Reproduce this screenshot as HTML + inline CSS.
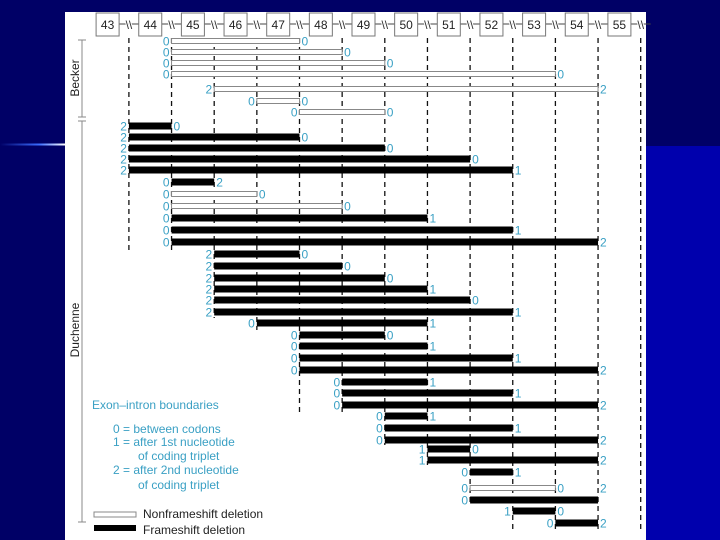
<!DOCTYPE html>
<html><head><meta charset="utf-8"><style>
html,body{margin:0;padding:0;width:720px;height:540px;overflow:hidden;background:#000066;}
svg{display:block;font-family:"Liberation Sans",sans-serif;}
</style></head><body>
<svg id="chart" width="720" height="540" viewBox="0 0 720 540" xmlns="http://www.w3.org/2000/svg">
<defs><linearGradient id="glow" x1="0" x2="1"><stop offset="0" stop-color="#000066"/><stop offset="0.6" stop-color="#3a6cff"/><stop offset="1" stop-color="#ffffff"/></linearGradient></defs>
<rect x="0" y="0" width="720" height="146" fill="#000066"/>
<rect x="0" y="146" width="720" height="394" fill="#0000ad"/>
<rect x="0" y="146" width="65" height="394" fill="#000066"/>
<rect x="0" y="143.5" width="65" height="2" fill="url(#glow)"/>
<rect x="65" y="12" width="581" height="528" fill="#ffffff"/>
<g id="grid"></g><g id="header"></g><g id="bars"></g>
<g stroke="#888" stroke-width="1">
<line x1="82" y1="40" x2="82" y2="117"/><line x1="78" y1="40" x2="86" y2="40"/><line x1="78" y1="117" x2="86" y2="117"/>
<line x1="82" y1="121" x2="82" y2="522"/><line x1="78" y1="121" x2="86" y2="121"/><line x1="78" y1="522" x2="86" y2="522"/>
</g>
<text transform="translate(79,78) rotate(-90)" text-anchor="middle" font-size="12" fill="#222">Becker</text>
<text transform="translate(79,330) rotate(-90)" text-anchor="middle" font-size="12" fill="#222">Duchenne</text>
<g font-size="12" fill="#3aa0c4">
<text x="92" y="409">Exon–intron boundaries</text>
<text x="113" y="433">0 = between codons</text>
<text x="113" y="446">1 = after 1st nucleotide</text>
<text x="138" y="460">of coding triplet</text>
<text x="113" y="474">2 = after 2nd nucleotide</text>
<text x="138" y="489">of coding triplet</text>
</g>
<g font-size="12" fill="#222">
<rect x="94" y="512" width="42" height="5" fill="#fff" stroke="#888" stroke-width="1"/>
<text x="143" y="518">Nonframeshift deletion</text>
<rect x="94" y="525" width="42" height="6" fill="#000"/>
<text x="143" y="534">Frameshift deletion</text>
</g>
</svg>
<script>
const exons=[43,44,45,46,47,48,49,50,51,52,53,54,55];
const rowStart=[1,1,1,1,2,3,4, 0,0,0,0,0, 1,1,1,1,1,1, 2,2,2,2,2,2, 3, 4,4,4,4, 5,5,5, 6,6,6, 7,7, 8,8,8, 9,10];
const rowEnd=[4,5,6,10,11,4,6, 1,4,6,8,9, 2,3,5,7,9,11, 4,5,6,7,8,9, 7, 6,7,9,11, 7,9,11, 7,9,11, 8,11, 9,10,11, 10,11];
const startLabel=["0","0","0","0","2","0","0", "2","2","2","2","2", "0","0","0","0","0","0", "2","2","2","2","2","2", "0", "0","0","0","0", "0","0","0", "0","0","0", "1","1", "0","0","0", "1","0"];
const endLabel=["0","0","0","0","2","0","0", "0","0","0","0","1", "2","0","0","1","1","2", "0","0","0","1","0","1", "1", "0","1","1","2", "1","1","2", "1","1","2", "0","2", "1","0","", "0","2"];
const frameshift=[0,0,0,0,0,0,0, 1,1,1,1,1, 1,0,0,1,1,1, 1,1,1,1,1,1, 1, 1,1,1,1, 1,1,1, 1,1,1, 1,1, 1,0,1, 1,1];
const rowY=[41,52,63,74,89,101,112, 126,137,148,159,170, 182,194,206,218,230,242, 254,266,278,289,300,312, 323, 335,346,358,370, 382,393,405, 416,428,440, 449,460, 472,488,500, 511,523];
const lineBottom=[252,252,318,330,412,412,445,465,505,530,530,530,530];
const NS="http://www.w3.org/2000/svg";
const bx=i=>128.9+42.65*i;
function mk(tag,attrs,parent){const e=document.createElementNS(NS,tag);for(const k in attrs)e.setAttribute(k,attrs[k]);parent.appendChild(e);return e;}
const grid=document.getElementById('grid'),header=document.getElementById('header'),bars=document.getElementById('bars');
lineBottom.forEach((b,i)=>{
  const l=mk('line',{x1:bx(i),y1:38,x2:bx(i),y2:b,stroke:'#111','stroke-width':1.3,'stroke-dasharray':'5,4'},grid);
  
  
  const c=mk('line',{x1:bx(i)-10,y1:24,x2:bx(i)+10,y2:24,stroke:'#444','stroke-width':1},header);
  
  
  const s=mk('text',{x:bx(i),y:29,'text-anchor':'middle','font-size':12,fill:'#333',stroke:'#fff','stroke-width':2,'paint-order':'stroke'},header);
  s.textContent='\\\\';
  
  
});
exons.forEach((e,i)=>{
  const cx=bx(i)-21.3;
  const r=mk('rect',{x:cx-11.5,y:13,width:23,height:23,fill:'#fff',stroke:'#777','stroke-width':1},header);
  
  
  const t=mk('text',{x:cx,y:29,'text-anchor':'middle','font-size':12,fill:'#222'},header);
  t.textContent=e;
  
  
});
rowStart.forEach((s,i)=>{
  const x1=bx(s),x2=bx(rowEnd[i]),y=rowY[i];
  let r;
  if(frameshift[i]) r=mk('rect',{x:x1,y:y-3.5,width:x2-x1,height:7,fill:'#000'},bars);
  else r=mk('rect',{x:x1,y:y-2.5,width:x2-x1,height:5,fill:'#fff',stroke:'#888','stroke-width':1},bars);
  
  
  const a=mk('text',{x:x1-2,y:y+4.5,'text-anchor':'end','font-size':12,fill:'#3aa0c4'},bars);
  a.textContent=startLabel[i];
  
  
  const b=mk('text',{x:x2+2,y:y+4.5,'font-size':12,fill:'#3aa0c4'},bars);
  b.textContent=endLabel[i];
  
  
});
const extra=mk('text',{x:bx(11)+2,y:492.5,'font-size':12,fill:'#3aa0c4'},bars);
extra.textContent='2';


</script>
</body></html>
